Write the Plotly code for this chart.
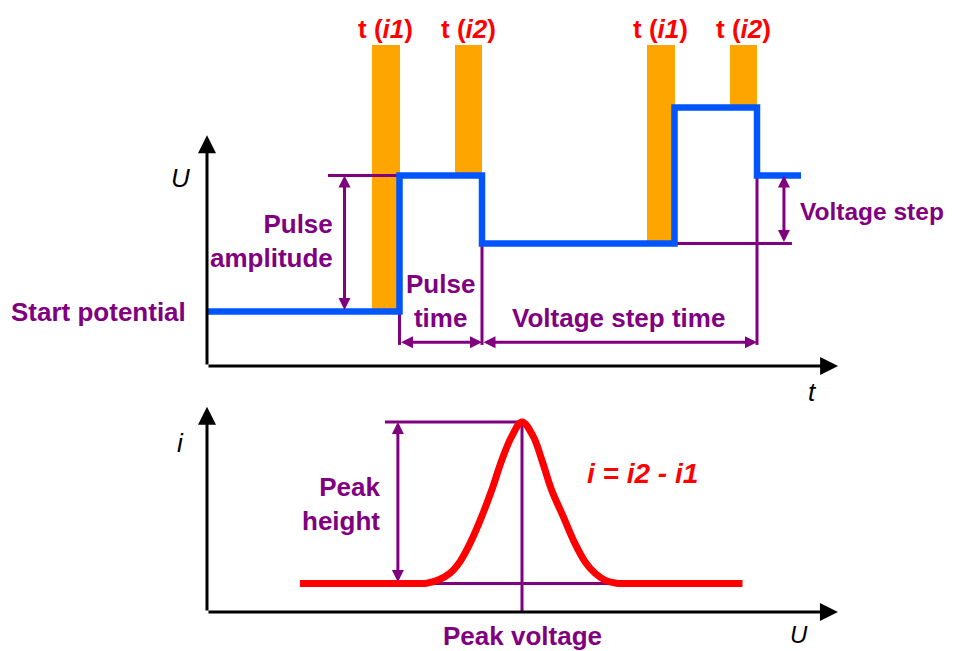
import plotly.graph_objects as go

# ---------------- DATA ----------------
# Top panel: applied potential waveform (differential pulse)
t_wave = [0, 7, 7, 10, 10, 17, 17, 20, 20, 21.6]
U_wave = [1.6, 1.6, 5.6, 5.6, 3.6, 3.6, 7.6, 7.6, 5.6, 5.6]

# Current sampling windows
sample_labels = ["i1", "i2", "i1", "i2"]
sample_start = [6, 9, 16, 19]
sample_end = [7, 10, 17, 20]
sample_base = [1.6, 5.6, 3.6, 7.6]
sample_top = 9.44

# Dimension values (top panel)
start_potential = 1.6
pulse_amplitude = 4.0
voltage_step = 2.0
pulse_start = 7
pulse_time = 3
step_time = 10

# Bottom panel: differential current vs potential
U_scan = [2.95, 6.6, 6.97, 7.34, 7.71, 8.03, 8.35, 8.72, 9.04, 9.36, 9.67, 10.0,
          10.36, 10.63, 10.94, 11.31, 11.68, 12.0, 12.32, 12.63, 13.0, 13.4, 17.0]
i_diff = [1.5, 1.5, 1.51, 1.68, 2.04, 2.65, 3.61, 5.02, 6.42, 8.0, 9.23, 10.0,
          9.23, 8.0, 6.42, 5.02, 3.61, 2.65, 2.04, 1.68, 1.51, 1.5, 1.5]
peak_U = 10.0
peak_i = 10.0
baseline_i = 1.5

# ---------------- STYLE ----------------
PURPLE = "#800080"
BLUE = "#0055FF"
ORANGE = "#FFA500"
RED = "#FF0000"
FONT = "Liberation Sans, Arial, sans-serif"

# page body has an 8px margin: size the figure to the visible area
W, H, OFF = 952, 643, 8

fig = go.Figure()

# Sampling windows (orange bars)
fig.add_trace(go.Bar(
    x=[(s + e) / 2 for s, e in zip(sample_start, sample_end)],
    width=[e - s for s, e in zip(sample_start, sample_end)],
    base=sample_base,
    y=[sample_top - b for b in sample_base],
    marker=dict(color=ORANGE, line=dict(width=0)),
    xaxis="x", yaxis="y", showlegend=False, hoverinfo="skip",
))

# Purple guide lines, top panel
pulse_end = pulse_start + pulse_time
step_end = pulse_end + step_time
U_pulse = start_potential + pulse_amplitude
U_step1 = start_potential + voltage_step
dim_U = 0.7
tick_low = 0.62
gx, gy = [], []
def seg(x0, y0, x1, y1, xs, ys):
    xs += [x0, x1, None]
    ys += [y0, y1, None]
seg(4.4, U_pulse, pulse_start, U_pulse, gx, gy)
seg(pulse_start, start_potential, pulse_start, tick_low, gx, gy)
seg(pulse_end, U_step1, pulse_end, tick_low, gx, gy)
seg(step_end, U_pulse, step_end, tick_low, gx, gy)
seg(17, U_step1, 21.27, U_step1, gx, gy)
fig.add_trace(go.Scatter(x=gx, y=gy, mode="lines", line=dict(color=PURPLE, width=3),
                         xaxis="x", yaxis="y", showlegend=False, hoverinfo="skip"))

# Potential waveform
fig.add_trace(go.Scatter(x=t_wave, y=U_wave, mode="lines",
                         line=dict(color=BLUE, width=6.5),
                         xaxis="x", yaxis="y", showlegend=False, hoverinfo="skip"))

# Bottom panel guide lines
bx, by = [], []
seg(5.65, peak_i, peak_U, peak_i, bx, by)
seg(peak_U, peak_i, peak_U, 0, bx, by)
seg(7.08, baseline_i, 12.8, baseline_i, bx, by)
fig.add_trace(go.Scatter(x=bx, y=by, mode="lines", line=dict(color=PURPLE, width=3),
                         xaxis="x2", yaxis="y2", showlegend=False, hoverinfo="skip"))

# Differential current peak
fig.add_trace(go.Scatter(x=U_scan, y=i_diff, mode="lines",
                         line=dict(color=RED, width=7, shape="spline", smoothing=1.0),
                         xaxis="x2", yaxis="y2", showlegend=False, hoverinfo="skip"))

ann = []
def arrow(xr, yr, x0, y0, x1, y1, color, width, size, both=False):
    ann.append(dict(xref=xr, yref=yr, axref=xr, ayref=yr, x=x1, y=y1, ax=x0, ay=y0,
                    text="", showarrow=True, arrowhead=2, startarrowhead=2,
                    arrowsize=size, startarrowsize=size, arrowwidth=width,
                    arrowcolor=color, standoff=0, startstandoff=0,
                    arrowside="end+start" if both else "end"))

def label(xr, yr, x, y, text, color=PURPLE, size=26, xanchor="center",
          align="center", weight="bold", style="normal"):
    ann.append(dict(xref=xr, yref=yr, x=x, y=y, text=text, showarrow=False,
                    xanchor=xanchor, yanchor="middle", align=align,
                    font=dict(family=FONT, size=size, color=color,
                              weight=weight, style=style)))

# Axes (top)
arrow("x", "y", 0, 0, 0, 6.79, "black", 3, 1.2)
arrow("x", "y", 0, 0, 22.95, 0, "black", 3, 1.2)
# Axes (bottom)
arrow("x2", "y2", 0, 0, 0, 10.8, "black", 3, 1.2)
arrow("x2", "y2", 0, 0, 20.03, 0, "black", 3, 1.2)

# Dimension arrows (top)
arrow("x", "y", 5.0, start_potential, 5.0, U_pulse, PURPLE, 3, 0.8, both=True)
arrow("x", "y", pulse_start, dim_U, pulse_end, dim_U, PURPLE, 3, 0.8, both=True)
arrow("x", "y", pulse_end, dim_U, step_end, dim_U, PURPLE, 3, 0.8, both=True)
arrow("x", "y", 20.98, U_step1, 20.98, U_pulse, PURPLE, 3, 0.8, both=True)
# Dimension arrow (bottom)
arrow("x2", "y2", 6.06, baseline_i, 6.06, peak_i, PURPLE, 3, 0.8, both=True)

# Text labels (top)
for s, e, lab in zip(sample_start, sample_end, sample_labels):
    label("x", "y", (s + e) / 2, 9.91, "t (<i>%s</i>)" % lab, color=RED, size=26)
label("x", "y", -0.98, 5.53, "U", color="black", size=26, weight="normal", style="italic")
label("x", "y", 22.0, -0.76, "t", color="black", size=26, weight="normal", style="italic")
label("x", "y", 4.65, 3.68, "Pulse<br>amplitude", xanchor="right", align="right")
label("x", "y", -0.69, start_potential, "Start potential", xanchor="right", align="right")
label("x", "y", 8.5, 1.91, "Pulse<br>time")
label("x", "y", 14.95, 1.41, "Voltage step time")
label("x", "y", 21.5, 4.53, "Voltage step", size=24.5, xanchor="left", align="left")

# Text labels (bottom)
label("x2", "y2", -0.83, 8.9, "i", color="black", size=26, weight="normal", style="italic")
label("x2", "y2", 18.8, -1.2, "U", color="black", size=24, weight="normal", style="italic")
label("x2", "y2", 5.6, 5.68, "Peak<br>height", xanchor="right", align="right")
label("x2", "y2", peak_U, -1.26, "Peak voltage")
label("x2", "y2", 12.0, 7.3, "i = i2 - i1", color=RED, size=28, xanchor="left",
      align="left", style="italic")

x0px, yu0px, xi0px, yi0px = 207 - OFF, 366 - OFF, 207 - OFF, 612 - OFF
fig.update_layout(
    width=W, height=H,
    margin=dict(l=0, r=0, t=0, b=0),
    paper_bgcolor="white", plot_bgcolor="rgba(0,0,0,0)",
    showlegend=False, bargap=0,
    xaxis=dict(domain=[0, 1], range=[-x0px / 27.5, (W - x0px) / 27.5], visible=False, fixedrange=True),
    yaxis=dict(domain=[0, 1], range=[-(H - yu0px) / 34, yu0px / 34], visible=False, fixedrange=True),
    xaxis2=dict(domain=[0, 1], range=[-xi0px / 31.5, (W - xi0px) / 31.5], visible=False,
                anchor="y2", fixedrange=True),
    yaxis2=dict(domain=[0, 1], range=[-(H - yi0px) / 19, yi0px / 19], visible=False,
                anchor="x2", fixedrange=True),
    annotations=ann,
)

fig.write_html("out.html")
